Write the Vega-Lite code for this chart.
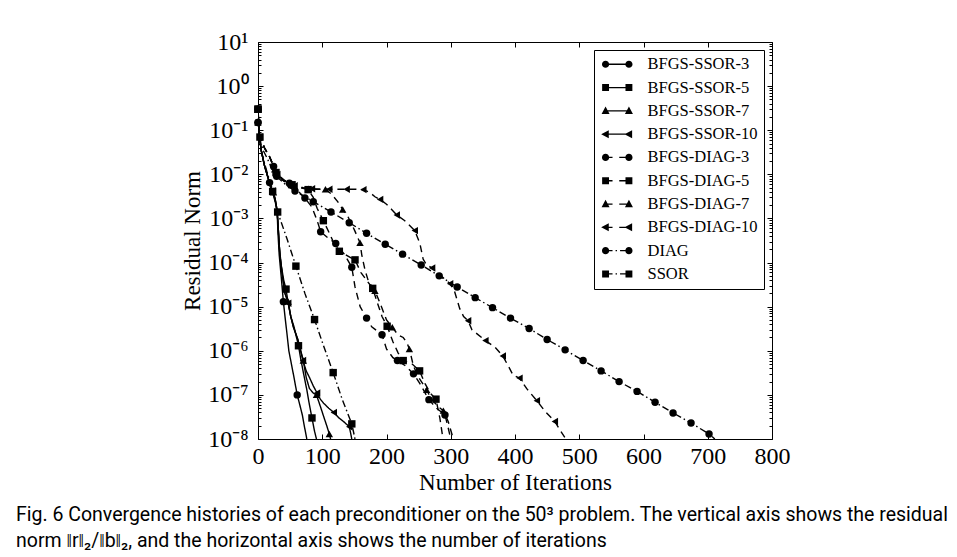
{
  "$schema": "https://vega.github.io/schema/vega-lite/v6.json",
  "width": 514,
  "height": 397,
  "padding": {"left": 16, "top": 30, "right": 5, "bottom": 5},
  "autosize": {"type": "pad"},
  "background": "white",
  "title": {
    "text": ["Fig. 6  Convergence histories of each preconditioner on the 50³ problem. The vertical axis shows the residual", "norm ‖r‖₂/‖b‖₂, and the horizontal axis shows the number of iterations"],
    "orient": "bottom",
    "anchor": "start",
    "frame": "group",
    "dx": -242,
    "offset": 12,
    "font": "Roboto",
    "fontSize": 19.5,
    "fontWeight": "normal",
    "color": "black",
    "lineHeight": 26
  },
  "datasets": {
    "curves": [
      {"series":"BFGS-SSOR-3","iter":0,"res":0.3,"mk":1},{"series":"BFGS-SSOR-3","iter":2,"res":0.08,"mk":0},{"series":"BFGS-SSOR-3","iter":5,"res":0.035,"mk":0},{"series":"BFGS-SSOR-3","iter":10,"res":0.016,"mk":0},{"series":"BFGS-SSOR-3","iter":15,"res":0.009,"mk":0},{"series":"BFGS-SSOR-3","iter":18,"res":0.0065,"mk":1},{"series":"BFGS-SSOR-3","iter":21,"res":0.0045,"mk":0},{"series":"BFGS-SSOR-3","iter":25,"res":0.003,"mk":0},{"series":"BFGS-SSOR-3","iter":28,"res":0.002,"mk":0},{"series":"BFGS-SSOR-3","iter":30,"res":0.0012,"mk":0},{"series":"BFGS-SSOR-3","iter":31,"res":5e-4,"mk":0},{"series":"BFGS-SSOR-3","iter":33,"res":1.5e-4,"mk":0},{"series":"BFGS-SSOR-3","iter":36,"res":5e-5,"mk":0},{"series":"BFGS-SSOR-3","iter":39.5,"res":1.3e-5,"mk":1},{"series":"BFGS-SSOR-3","iter":42,"res":6e-6,"mk":0},{"series":"BFGS-SSOR-3","iter":45,"res":2.5e-6,"mk":0},{"series":"BFGS-SSOR-3","iter":48,"res":1e-6,"mk":0},{"series":"BFGS-SSOR-3","iter":52,"res":5e-7,"mk":0},{"series":"BFGS-SSOR-3","iter":56,"res":2.5e-7,"mk":0},{"series":"BFGS-SSOR-3","iter":61,"res":1e-7,"mk":1},{"series":"BFGS-SSOR-3","iter":65,"res":6e-8,"mk":0},{"series":"BFGS-SSOR-3","iter":69,"res":3.5e-8,"mk":0},{"series":"BFGS-SSOR-3","iter":72,"res":2e-8,"mk":0},{"series":"BFGS-SSOR-3","iter":76,"res":1e-8,"mk":0},

      {"series":"BFGS-SSOR-5","iter":0,"res":0.3,"mk":1},{"series":"BFGS-SSOR-5","iter":2,"res":0.08,"mk":0},{"series":"BFGS-SSOR-5","iter":5,"res":0.035,"mk":0},{"series":"BFGS-SSOR-5","iter":10,"res":0.016,"mk":0},{"series":"BFGS-SSOR-5","iter":15,"res":0.009,"mk":0},{"series":"BFGS-SSOR-5","iter":19,"res":0.0055,"mk":0},{"series":"BFGS-SSOR-5","iter":22.8,"res":0.0041,"mk":1},{"series":"BFGS-SSOR-5","iter":26,"res":0.003,"mk":0},{"series":"BFGS-SSOR-5","iter":29,"res":0.0018,"mk":0},{"series":"BFGS-SSOR-5","iter":31,"res":8e-4,"mk":0},{"series":"BFGS-SSOR-5","iter":33,"res":2.5e-4,"mk":0},{"series":"BFGS-SSOR-5","iter":36,"res":9e-5,"mk":0},{"series":"BFGS-SSOR-5","iter":40,"res":4e-5,"mk":0},{"series":"BFGS-SSOR-5","iter":43.6,"res":2.5e-5,"mk":1},{"series":"BFGS-SSOR-5","iter":47,"res":1.2e-5,"mk":0},{"series":"BFGS-SSOR-5","iter":51,"res":6e-6,"mk":0},{"series":"BFGS-SSOR-5","iter":56,"res":3.5e-6,"mk":0},{"series":"BFGS-SSOR-5","iter":60,"res":2e-6,"mk":0},{"series":"BFGS-SSOR-5","iter":63,"res":1.3e-6,"mk":1},{"series":"BFGS-SSOR-5","iter":67,"res":6e-7,"mk":0},{"series":"BFGS-SSOR-5","iter":71,"res":3e-7,"mk":0},{"series":"BFGS-SSOR-5","iter":76,"res":1.3e-7,"mk":0},{"series":"BFGS-SSOR-5","iter":80,"res":6e-8,"mk":0},{"series":"BFGS-SSOR-5","iter":84,"res":3e-8,"mk":1},{"series":"BFGS-SSOR-5","iter":88,"res":1.5e-8,"mk":0},{"series":"BFGS-SSOR-5","iter":91,"res":1e-8,"mk":0},

      {"series":"BFGS-SSOR-7","iter":0,"res":0.3,"mk":1},{"series":"BFGS-SSOR-7","iter":2,"res":0.08,"mk":0},{"series":"BFGS-SSOR-7","iter":5,"res":0.035,"mk":0},{"series":"BFGS-SSOR-7","iter":10,"res":0.016,"mk":0},{"series":"BFGS-SSOR-7","iter":15,"res":0.009,"mk":0},{"series":"BFGS-SSOR-7","iter":20,"res":0.005,"mk":0},{"series":"BFGS-SSOR-7","iter":24,"res":0.0039,"mk":1},{"series":"BFGS-SSOR-7","iter":27,"res":0.0026,"mk":0},{"series":"BFGS-SSOR-7","iter":30,"res":0.0014,"mk":0},{"series":"BFGS-SSOR-7","iter":31.5,"res":6e-4,"mk":0},{"series":"BFGS-SSOR-7","iter":34,"res":1.5e-4,"mk":0},{"series":"BFGS-SSOR-7","iter":38,"res":5e-5,"mk":0},{"series":"BFGS-SSOR-7","iter":42,"res":2e-5,"mk":0},{"series":"BFGS-SSOR-7","iter":47,"res":1.3e-5,"mk":1},{"series":"BFGS-SSOR-7","iter":51,"res":6e-6,"mk":0},{"series":"BFGS-SSOR-7","iter":55,"res":3.5e-6,"mk":0},{"series":"BFGS-SSOR-7","iter":62,"res":1.8e-6,"mk":0},{"series":"BFGS-SSOR-7","iter":70.5,"res":6e-7,"mk":1},{"series":"BFGS-SSOR-7","iter":75,"res":2.5e-7,"mk":0},{"series":"BFGS-SSOR-7","iter":80,"res":1.4e-7,"mk":0},{"series":"BFGS-SSOR-7","iter":86,"res":1.1e-7,"mk":0},{"series":"BFGS-SSOR-7","iter":91,"res":1e-7,"mk":1},{"series":"BFGS-SSOR-7","iter":98,"res":5e-8,"mk":0},{"series":"BFGS-SSOR-7","iter":102,"res":3.3e-8,"mk":0},{"series":"BFGS-SSOR-7","iter":107,"res":2e-8,"mk":0},{"series":"BFGS-SSOR-7","iter":111,"res":1.3e-8,"mk":1},{"series":"BFGS-SSOR-7","iter":113,"res":1e-8,"mk":0},

      {"series":"BFGS-SSOR-10","iter":0,"res":0.3,"mk":1},{"series":"BFGS-SSOR-10","iter":2,"res":0.08,"mk":0},{"series":"BFGS-SSOR-10","iter":5,"res":0.035,"mk":0},{"series":"BFGS-SSOR-10","iter":10,"res":0.016,"mk":0},{"series":"BFGS-SSOR-10","iter":15,"res":0.009,"mk":0},{"series":"BFGS-SSOR-10","iter":20,"res":0.005,"mk":0},{"series":"BFGS-SSOR-10","iter":23,"res":0.0042,"mk":1},{"series":"BFGS-SSOR-10","iter":27,"res":0.0026,"mk":0},{"series":"BFGS-SSOR-10","iter":30,"res":0.0014,"mk":0},{"series":"BFGS-SSOR-10","iter":31.5,"res":6e-4,"mk":0},{"series":"BFGS-SSOR-10","iter":34,"res":1.5e-4,"mk":0},{"series":"BFGS-SSOR-10","iter":38,"res":5e-5,"mk":0},{"series":"BFGS-SSOR-10","iter":42,"res":2e-5,"mk":0},{"series":"BFGS-SSOR-10","iter":47,"res":1.2e-5,"mk":1},{"series":"BFGS-SSOR-10","iter":51,"res":6e-6,"mk":0},{"series":"BFGS-SSOR-10","iter":55,"res":3.5e-6,"mk":0},{"series":"BFGS-SSOR-10","iter":62,"res":1.8e-6,"mk":0},{"series":"BFGS-SSOR-10","iter":70,"res":6e-7,"mk":1},{"series":"BFGS-SSOR-10","iter":75,"res":3.5e-7,"mk":0},{"series":"BFGS-SSOR-10","iter":80,"res":2.5e-7,"mk":0},{"series":"BFGS-SSOR-10","iter":86,"res":1.6e-7,"mk":0},{"series":"BFGS-SSOR-10","iter":92,"res":1.1e-7,"mk":1},{"series":"BFGS-SSOR-10","iter":97,"res":8e-8,"mk":0},{"series":"BFGS-SSOR-10","iter":102,"res":6.5e-8,"mk":0},{"series":"BFGS-SSOR-10","iter":110,"res":5e-8,"mk":0},{"series":"BFGS-SSOR-10","iter":118,"res":4e-8,"mk":1},{"series":"BFGS-SSOR-10","iter":126,"res":3e-8,"mk":0},{"series":"BFGS-SSOR-10","iter":133,"res":2.5e-8,"mk":0},{"series":"BFGS-SSOR-10","iter":142,"res":1.9e-8,"mk":1},{"series":"BFGS-SSOR-10","iter":144,"res":1.4e-8,"mk":0},{"series":"BFGS-SSOR-10","iter":146,"res":1e-8,"mk":0},

      {"series":"BFGS-DIAG-3","iter":0,"res":0.15,"mk":1},{"series":"BFGS-DIAG-3","iter":3,"res":0.07,"mk":0},{"series":"BFGS-DIAG-3","iter":10,"res":0.04,"mk":0},{"series":"BFGS-DIAG-3","iter":18,"res":0.025,"mk":0},{"series":"BFGS-DIAG-3","iter":24.3,"res":0.015,"mk":1},{"series":"BFGS-DIAG-3","iter":30,"res":0.01,"mk":0},{"series":"BFGS-DIAG-3","iter":40,"res":0.0075,"mk":0},{"series":"BFGS-DIAG-3","iter":48.8,"res":0.0063,"mk":1},{"series":"BFGS-DIAG-3","iter":60,"res":0.0045,"mk":0},{"series":"BFGS-DIAG-3","iter":73,"res":0.0029,"mk":1},{"series":"BFGS-DIAG-3","iter":84,"res":0.0018,"mk":0},{"series":"BFGS-DIAG-3","iter":92,"res":9e-4,"mk":0},{"series":"BFGS-DIAG-3","iter":97.5,"res":5e-4,"mk":1},{"series":"BFGS-DIAG-3","iter":110,"res":3.5e-4,"mk":0},{"series":"BFGS-DIAG-3","iter":121,"res":2.7e-4,"mk":1},{"series":"BFGS-DIAG-3","iter":135,"res":1.5e-4,"mk":0},{"series":"BFGS-DIAG-3","iter":146,"res":7.8e-5,"mk":1},{"series":"BFGS-DIAG-3","iter":151,"res":2.8e-5,"mk":0},{"series":"BFGS-DIAG-3","iter":159,"res":1e-5,"mk":0},{"series":"BFGS-DIAG-3","iter":169,"res":5.5e-6,"mk":1},{"series":"BFGS-DIAG-3","iter":177,"res":3.5e-6,"mk":0},{"series":"BFGS-DIAG-3","iter":193,"res":2.3e-6,"mk":1},{"series":"BFGS-DIAG-3","iter":200,"res":1.1e-6,"mk":0},{"series":"BFGS-DIAG-3","iter":210,"res":7e-7,"mk":0},{"series":"BFGS-DIAG-3","iter":217,"res":6e-7,"mk":1},{"series":"BFGS-DIAG-3","iter":230,"res":4.5e-7,"mk":0},{"series":"BFGS-DIAG-3","iter":242,"res":3e-7,"mk":1},{"series":"BFGS-DIAG-3","iter":252,"res":1.8e-7,"mk":0},{"series":"BFGS-DIAG-3","iter":266,"res":7.8e-8,"mk":1},{"series":"BFGS-DIAG-3","iter":278,"res":5e-8,"mk":0},{"series":"BFGS-DIAG-3","iter":291,"res":3.5e-8,"mk":1},{"series":"BFGS-DIAG-3","iter":296,"res":1.8e-8,"mk":0},{"series":"BFGS-DIAG-3","iter":300,"res":1e-8,"mk":0},

      {"series":"BFGS-DIAG-5","iter":0,"res":0.15,"mk":0},{"series":"BFGS-DIAG-5","iter":3,"res":0.07,"mk":1},{"series":"BFGS-DIAG-5","iter":10,"res":0.04,"mk":0},{"series":"BFGS-DIAG-5","iter":18,"res":0.025,"mk":0},{"series":"BFGS-DIAG-5","iter":28,"res":0.011,"mk":1},{"series":"BFGS-DIAG-5","iter":40,"res":0.007,"mk":0},{"series":"BFGS-DIAG-5","iter":53,"res":0.0058,"mk":1},{"series":"BFGS-DIAG-5","iter":65,"res":0.005,"mk":0},{"series":"BFGS-DIAG-5","iter":78,"res":0.0045,"mk":1},{"series":"BFGS-DIAG-5","iter":86,"res":0.003,"mk":0},{"series":"BFGS-DIAG-5","iter":92,"res":0.0017,"mk":0},{"series":"BFGS-DIAG-5","iter":101.7,"res":8.9e-4,"mk":1},{"series":"BFGS-DIAG-5","iter":110,"res":5e-4,"mk":0},{"series":"BFGS-DIAG-5","iter":118,"res":2.8e-4,"mk":0},{"series":"BFGS-DIAG-5","iter":126.6,"res":1.8e-4,"mk":1},{"series":"BFGS-DIAG-5","iter":140,"res":1.4e-4,"mk":0},{"series":"BFGS-DIAG-5","iter":151,"res":1.15e-4,"mk":1},{"series":"BFGS-DIAG-5","iter":160,"res":6e-5,"mk":0},{"series":"BFGS-DIAG-5","iter":170,"res":3.8e-5,"mk":0},{"series":"BFGS-DIAG-5","iter":178.5,"res":2.6e-5,"mk":1},{"series":"BFGS-DIAG-5","iter":186,"res":1.2e-5,"mk":0},{"series":"BFGS-DIAG-5","iter":193,"res":6e-6,"mk":0},{"series":"BFGS-DIAG-5","iter":201,"res":3.6e-6,"mk":1},{"series":"BFGS-DIAG-5","iter":210,"res":1.6e-6,"mk":0},{"series":"BFGS-DIAG-5","iter":218,"res":9e-7,"mk":0},{"series":"BFGS-DIAG-5","iter":226,"res":6e-7,"mk":1},{"series":"BFGS-DIAG-5","iter":240,"res":5e-7,"mk":0},{"series":"BFGS-DIAG-5","iter":251.5,"res":3.5e-7,"mk":1},{"series":"BFGS-DIAG-5","iter":260,"res":1.8e-7,"mk":0},{"series":"BFGS-DIAG-5","iter":268,"res":1.1e-7,"mk":0},{"series":"BFGS-DIAG-5","iter":277,"res":8e-8,"mk":1},{"series":"BFGS-DIAG-5","iter":283,"res":3e-8,"mk":0},{"series":"BFGS-DIAG-5","iter":288,"res":1e-8,"mk":0},

      {"series":"BFGS-DIAG-7","iter":0,"res":0.15,"mk":1},{"series":"BFGS-DIAG-7","iter":3,"res":0.07,"mk":0},{"series":"BFGS-DIAG-7","iter":10,"res":0.04,"mk":0},{"series":"BFGS-DIAG-7","iter":18,"res":0.025,"mk":0},{"series":"BFGS-DIAG-7","iter":26,"res":0.013,"mk":1},{"series":"BFGS-DIAG-7","iter":38,"res":0.0075,"mk":0},{"series":"BFGS-DIAG-7","iter":52,"res":0.0058,"mk":1},{"series":"BFGS-DIAG-7","iter":65,"res":0.005,"mk":0},{"series":"BFGS-DIAG-7","iter":78.5,"res":0.0047,"mk":1},{"series":"BFGS-DIAG-7","iter":92,"res":0.0046,"mk":0},{"series":"BFGS-DIAG-7","iter":105,"res":0.0046,"mk":1},{"series":"BFGS-DIAG-7","iter":115,"res":0.0035,"mk":0},{"series":"BFGS-DIAG-7","iter":124,"res":0.0024,"mk":0},{"series":"BFGS-DIAG-7","iter":131.8,"res":0.0016,"mk":1},{"series":"BFGS-DIAG-7","iter":140,"res":0.0011,"mk":0},{"series":"BFGS-DIAG-7","iter":150,"res":5.5e-4,"mk":0},{"series":"BFGS-DIAG-7","iter":158.8,"res":2.8e-4,"mk":1},{"series":"BFGS-DIAG-7","iter":161.5,"res":1.5e-4,"mk":0},{"series":"BFGS-DIAG-7","iter":166.5,"res":6.8e-5,"mk":0},{"series":"BFGS-DIAG-7","iter":172,"res":3.7e-5,"mk":0},{"series":"BFGS-DIAG-7","iter":182,"res":2.3e-5,"mk":1},{"series":"BFGS-DIAG-7","iter":190,"res":1.2e-5,"mk":0},{"series":"BFGS-DIAG-7","iter":200,"res":5e-6,"mk":0},{"series":"BFGS-DIAG-7","iter":209,"res":3.4e-6,"mk":1},{"series":"BFGS-DIAG-7","iter":218,"res":2.3e-6,"mk":0},{"series":"BFGS-DIAG-7","iter":226,"res":2e-6,"mk":0},{"series":"BFGS-DIAG-7","iter":232,"res":1.5e-6,"mk":0},{"series":"BFGS-DIAG-7","iter":235.6,"res":1.1e-6,"mk":1},{"series":"BFGS-DIAG-7","iter":242,"res":4.5e-7,"mk":0},{"series":"BFGS-DIAG-7","iter":250,"res":2.5e-7,"mk":0},{"series":"BFGS-DIAG-7","iter":262.5,"res":1.3e-7,"mk":1},{"series":"BFGS-DIAG-7","iter":270,"res":8e-8,"mk":0},{"series":"BFGS-DIAG-7","iter":280,"res":5.5e-8,"mk":0},{"series":"BFGS-DIAG-7","iter":288.5,"res":4.4e-8,"mk":1},{"series":"BFGS-DIAG-7","iter":296,"res":2.5e-8,"mk":0},{"series":"BFGS-DIAG-7","iter":304,"res":1e-8,"mk":0},

      {"series":"BFGS-DIAG-10","iter":0,"res":0.15,"mk":0},{"series":"BFGS-DIAG-10","iter":3,"res":0.07,"mk":1},{"series":"BFGS-DIAG-10","iter":10,"res":0.04,"mk":0},{"series":"BFGS-DIAG-10","iter":18,"res":0.025,"mk":0},{"series":"BFGS-DIAG-10","iter":30,"res":0.01,"mk":1},{"series":"BFGS-DIAG-10","iter":45,"res":0.0065,"mk":0},{"series":"BFGS-DIAG-10","iter":57,"res":0.0055,"mk":1},{"series":"BFGS-DIAG-10","iter":70,"res":0.005,"mk":0},{"series":"BFGS-DIAG-10","iter":84,"res":0.0047,"mk":1},{"series":"BFGS-DIAG-10","iter":97,"res":0.0046,"mk":0},{"series":"BFGS-DIAG-10","iter":111,"res":0.0046,"mk":1},{"series":"BFGS-DIAG-10","iter":125,"res":0.0046,"mk":0},{"series":"BFGS-DIAG-10","iter":138,"res":0.0046,"mk":1},{"series":"BFGS-DIAG-10","iter":150,"res":0.0046,"mk":0},{"series":"BFGS-DIAG-10","iter":164,"res":0.0045,"mk":1},{"series":"BFGS-DIAG-10","iter":175,"res":0.0038,"mk":0},{"series":"BFGS-DIAG-10","iter":182,"res":0.0031,"mk":0},{"series":"BFGS-DIAG-10","iter":190,"res":0.0027,"mk":1},{"series":"BFGS-DIAG-10","iter":200,"res":0.0021,"mk":0},{"series":"BFGS-DIAG-10","iter":208,"res":0.0016,"mk":0},{"series":"BFGS-DIAG-10","iter":216,"res":0.0012,"mk":1},{"series":"BFGS-DIAG-10","iter":228,"res":9e-4,"mk":0},{"series":"BFGS-DIAG-10","iter":238,"res":6.5e-4,"mk":0},{"series":"BFGS-DIAG-10","iter":244,"res":5.3e-4,"mk":1},{"series":"BFGS-DIAG-10","iter":252,"res":2.7e-4,"mk":0},{"series":"BFGS-DIAG-10","iter":257,"res":1.2e-4,"mk":0},{"series":"BFGS-DIAG-10","iter":262,"res":9e-5,"mk":0},{"series":"BFGS-DIAG-10","iter":271,"res":7.5e-5,"mk":1},{"series":"BFGS-DIAG-10","iter":285,"res":5e-5,"mk":0},{"series":"BFGS-DIAG-10","iter":299,"res":3.3e-5,"mk":1},{"series":"BFGS-DIAG-10","iter":306,"res":2.2e-5,"mk":0},{"series":"BFGS-DIAG-10","iter":314,"res":9e-6,"mk":0},{"series":"BFGS-DIAG-10","iter":320,"res":6e-6,"mk":0},{"series":"BFGS-DIAG-10","iter":327,"res":4.8e-6,"mk":1},{"series":"BFGS-DIAG-10","iter":333,"res":3e-6,"mk":0},{"series":"BFGS-DIAG-10","iter":354,"res":1.7e-6,"mk":1},{"series":"BFGS-DIAG-10","iter":369,"res":1.2e-6,"mk":0},{"series":"BFGS-DIAG-10","iter":381,"res":7.6e-7,"mk":1},{"series":"BFGS-DIAG-10","iter":390,"res":4.4e-7,"mk":0},{"series":"BFGS-DIAG-10","iter":397,"res":2.8e-7,"mk":0},{"series":"BFGS-DIAG-10","iter":407,"res":2.4e-7,"mk":1},{"series":"BFGS-DIAG-10","iter":418,"res":1.4e-7,"mk":0},{"series":"BFGS-DIAG-10","iter":434,"res":7.4e-8,"mk":1},{"series":"BFGS-DIAG-10","iter":447,"res":4.2e-8,"mk":0},{"series":"BFGS-DIAG-10","iter":462,"res":2.5e-8,"mk":1},{"series":"BFGS-DIAG-10","iter":470,"res":1.6e-8,"mk":0},{"series":"BFGS-DIAG-10","iter":479,"res":1e-8,"mk":0},

      {"series":"DIAG","iter":0,"res":0.15,"mk":1},{"series":"DIAG","iter":3,"res":0.06,"mk":0},{"series":"DIAG","iter":8,"res":0.035,"mk":0},{"series":"DIAG","iter":15,"res":0.022,"mk":0},{"series":"DIAG","iter":22,"res":0.013,"mk":0},{"series":"DIAG","iter":29,"res":0.009,"mk":1},{"series":"DIAG","iter":43,"res":0.0058,"mk":0},{"series":"DIAG","iter":57.6,"res":0.0042,"mk":1},{"series":"DIAG","iter":86,"res":0.0024,"mk":1},{"series":"DIAG","iter":113.6,"res":0.0014,"mk":1},{"series":"DIAG","iter":142,"res":8e-4,"mk":1},{"series":"DIAG","iter":169,"res":4.6e-4,"mk":1},{"series":"DIAG","iter":198,"res":2.6e-4,"mk":1},{"series":"DIAG","iter":225,"res":1.55e-4,"mk":1},{"series":"DIAG","iter":254,"res":8.8e-5,"mk":1},{"series":"DIAG","iter":282,"res":5e-5,"mk":1},{"series":"DIAG","iter":310,"res":2.8e-5,"mk":1},{"series":"DIAG","iter":338,"res":1.6e-5,"mk":1},{"series":"DIAG","iter":365,"res":9.5e-6,"mk":1},{"series":"DIAG","iter":393,"res":5.5e-6,"mk":1},{"series":"DIAG","iter":422,"res":3.2e-6,"mk":1},{"series":"DIAG","iter":450,"res":1.8e-6,"mk":1},{"series":"DIAG","iter":478,"res":1.05e-6,"mk":1},{"series":"DIAG","iter":506,"res":6e-7,"mk":1},{"series":"DIAG","iter":534,"res":3.5e-7,"mk":1},{"series":"DIAG","iter":562,"res":2e-7,"mk":1},{"series":"DIAG","iter":590,"res":1.2e-7,"mk":1},{"series":"DIAG","iter":618,"res":6.8e-8,"mk":1},{"series":"DIAG","iter":646,"res":3.9e-8,"mk":1},{"series":"DIAG","iter":674,"res":2.3e-8,"mk":1},{"series":"DIAG","iter":702,"res":1.3e-8,"mk":1},{"series":"DIAG","iter":711,"res":1e-8,"mk":0},

      {"series":"SSOR","iter":0,"res":0.3,"mk":1},{"series":"SSOR","iter":3,"res":0.06,"mk":0},{"series":"SSOR","iter":6,"res":0.03,"mk":0},{"series":"SSOR","iter":10,"res":0.018,"mk":0},{"series":"SSOR","iter":15,"res":0.01,"mk":0},{"series":"SSOR","iter":20,"res":0.006,"mk":0},{"series":"SSOR","iter":25,"res":0.0032,"mk":0},{"series":"SSOR","iter":30.6,"res":0.0014,"mk":1},{"series":"SSOR","iter":45,"res":3.5e-4,"mk":0},{"series":"SSOR","iter":59,"res":8.3e-5,"mk":1},{"series":"SSOR","iter":73,"res":2e-5,"mk":0},{"series":"SSOR","iter":88,"res":5.1e-6,"mk":1},{"series":"SSOR","iter":102,"res":1.3e-6,"mk":0},{"series":"SSOR","iter":117,"res":3.2e-7,"mk":1},{"series":"SSOR","iter":131,"res":8e-8,"mk":0},{"series":"SSOR","iter":146,"res":2.2e-8,"mk":1},{"series":"SSOR","iter":151,"res":1e-8,"mk":0}
    ]
  },
  "data": {"name": "curves"},
  "layer": [
    {
      "mark": {"type": "line", "color": "black", "strokeWidth": 1.4, "clip": true},
      "encoding": {
        "x": {"field": "iter", "type": "quantitative", "scale": {"domain": [0, 800], "nice": false, "zero": false},
          "axis": {"orient": "bottom", "values": [0, 100, 200, 300, 400, 500, 600, 700, 800], "tickSize": -5, "labelPadding": 10, "labelFontSize": 24, "title": "Number of Iterations", "titlePadding": 3, "format": "d"}},
        "y": {"field": "res", "type": "quantitative", "scale": {"type": "log", "domain": [1e-8, 10], "nice": false},
          "axis": {"orient": "left", "values": [1e-8, 1e-7, 1e-6, 1e-5, 1e-4, 1e-3, 1e-2, 1e-1, 1, 10], "tickSize": -5, "labelPadding": 15, "labelFontSize": 24, "title": "Residual Norm", "titlePadding": 3,
            "labelExpr": "'10' + ['⁻⁸','⁻⁷','⁻⁶','⁻⁵','⁻⁴','⁻³','⁻²','⁻¹','⁰','¹'][round(log(datum.value)/LN10)+8]"}},
        "detail": {"field": "series", "type": "nominal"},
        "strokeDash": {"field": "series", "type": "nominal", "legend": null,
          "scale": {"domain": ["BFGS-SSOR-3", "BFGS-SSOR-5", "BFGS-SSOR-7", "BFGS-SSOR-10", "BFGS-DIAG-3", "BFGS-DIAG-5", "BFGS-DIAG-7", "BFGS-DIAG-10", "DIAG", "SSOR"],
            "range": [[1, 0], [1, 0], [1, 0], [1, 0], [7, 5], [7, 5], [7, 5], [7, 5], [7, 3, 1.5, 3], [7, 3, 1.5, 3]]}},
        "order": {"field": "iter", "type": "quantitative"}
      }
    },
    {
      "transform": [{"filter": "datum.mk == 1"}],
      "mark": {"type": "point", "filled": true, "color": "black", "size": 55, "opacity": 1},
      "encoding": {
        "x": {"field": "iter", "type": "quantitative", "scale": {"domain": [0, 800], "nice": false, "zero": false},
          "axis": {"orient": "top", "values": [0, 100, 200, 300, 400, 500, 600, 700, 800], "tickSize": -5, "labels": false, "title": null}},
        "y": {"field": "res", "type": "quantitative", "scale": {"type": "log", "domain": [1e-8, 10], "nice": false},
          "axis": {"orient": "right", "values": [1e-8, 1e-7, 1e-6, 1e-5, 1e-4, 1e-3, 1e-2, 1e-1, 1, 10], "tickSize": -5, "labels": false, "title": null}},
        "shape": {"field": "series", "type": "nominal", "legend": null,
          "scale": {"domain": ["BFGS-SSOR-3", "BFGS-SSOR-5", "BFGS-SSOR-7", "BFGS-SSOR-10", "BFGS-DIAG-3", "BFGS-DIAG-5", "BFGS-DIAG-7", "BFGS-DIAG-10", "DIAG", "SSOR"],
            "range": ["circle", "square", "triangle-up", "triangle-left", "circle", "square", "triangle-up", "triangle-left", "circle", "square"]}}
      }
    },
    {
      "transform": [{"filter": "false"}],
      "mark": {"type": "point", "filled": true, "color": "black", "size": 256},
      "encoding": {
        "x": {"field": "iter", "type": "quantitative", "scale": {"domain": [0, 800], "nice": false, "zero": false}, "axis": null},
        "y": {"field": "res", "type": "quantitative", "scale": {"type": "log", "domain": [1e-8, 10], "nice": false},
          "axis": {"orient": "left", "values": [2e-8,3e-8,4e-8,5e-8,6e-8,7e-8,8e-8,9e-8,2e-7,3e-7,4e-7,5e-7,6e-7,7e-7,8e-7,9e-7,2e-6,3e-6,4e-6,5e-6,6e-6,7e-6,8e-6,9e-6,2e-5,3e-5,4e-5,5e-5,6e-5,7e-5,8e-5,9e-5,2e-4,3e-4,4e-4,5e-4,6e-4,7e-4,8e-4,9e-4,0.002,0.003,0.004,0.005,0.006,0.007,0.008,0.009,0.02,0.03,0.04,0.05,0.06,0.07,0.08,0.09,0.2,0.3,0.4,0.5,0.6,0.7,0.8,0.9,2,3,4,5,6,7,8,9], "tickSize": -3, "labels": false, "domain": false, "title": null}},
        "shape": {"field": "series", "type": "nominal",
          "scale": {"domain": ["BFGS-SSOR-3", "BFGS-SSOR-5", "BFGS-SSOR-7", "BFGS-SSOR-10", "BFGS-DIAG-3", "BFGS-DIAG-5", "BFGS-DIAG-7", "BFGS-DIAG-10", "DIAG", "SSOR"],
            "range": [
              "M-1.46,-0.08H1.46V0.08H-1.46Z M-1.91,0A0.45,0.45 0 1,1 -1.01,0A0.45,0.45 0 1,1 -1.91,0Z M1.01,0A0.45,0.45 0 1,1 1.91,0A0.45,0.45 0 1,1 1.01,0Z",
              "M-1.46,-0.08H1.46V0.08H-1.46Z M-1.89,-0.43H-1.03V0.43H-1.89Z M1.03,-0.43H1.89V0.43H1.03Z",
              "M-1.46,-0.08H1.46V0.08H-1.46Z M-1.46,-0.55L-0.96,0.4H-1.96Z M1.46,-0.55L1.96,0.4H0.96Z",
              "M-1.46,-0.08H1.46V0.08H-1.46Z M-2.01,0L-1.06,-0.5V0.5Z M0.91,0L1.86,-0.5V0.5Z",
              "M-1.46,-0.08H-0.59V0.08H-1.46Z M0.25,-0.08H1.46V0.08H0.25Z M-1.91,0A0.45,0.45 0 1,1 -1.01,0A0.45,0.45 0 1,1 -1.91,0Z M1.01,0A0.45,0.45 0 1,1 1.91,0A0.45,0.45 0 1,1 1.01,0Z",
              "M-1.46,-0.08H-0.59V0.08H-1.46Z M0.25,-0.08H1.46V0.08H0.25Z M-1.89,-0.43H-1.03V0.43H-1.89Z M1.03,-0.43H1.89V0.43H1.03Z",
              "M-1.46,-0.08H-0.59V0.08H-1.46Z M0.25,-0.08H1.46V0.08H0.25Z M-1.46,-0.55L-0.96,0.4H-1.96Z M1.46,-0.55L1.96,0.4H0.96Z",
              "M-1.46,-0.08H-0.59V0.08H-1.46Z M0.25,-0.08H1.46V0.08H0.25Z M-2.01,0L-1.06,-0.5V0.5Z M0.91,0L1.86,-0.5V0.5Z",
              "M-1.46,-0.08H-0.59V0.08H-1.46Z M-0.21,-0.08H-0.03V0.08H-0.21Z M0.35,-0.08H1.46V0.08H0.35Z M-1.91,0A0.45,0.45 0 1,1 -1.01,0A0.45,0.45 0 1,1 -1.91,0Z M1.01,0A0.45,0.45 0 1,1 1.91,0A0.45,0.45 0 1,1 1.01,0Z",
              "M-1.46,-0.08H-0.59V0.08H-1.46Z M-0.21,-0.08H-0.03V0.08H-0.21Z M0.35,-0.08H1.46V0.08H0.35Z M-1.89,-0.43H-1.03V0.43H-1.89Z M1.03,-0.43H1.89V0.43H1.03Z"
            ]},
          "legend": {"title": null, "orient": "top-right", "offset": 8, "padding": 6, "strokeColor": "black", "fillColor": "white",
            "symbolSize": 256, "symbolFillColor": "black", "symbolStrokeColor": "black", "symbolStrokeWidth": 0, "symbolOffset": 9, "symbolOpacity": 1,
            "labelOffset": 22, "labelFont": "Liberation Serif", "labelFontSize": 16.5, "labelColor": "black", "rowPadding": 6.3, "labelLimit": 300}}
      }
    },
    {
      "transform": [{"filter": "false"}],
      "mark": {"type": "point"},
      "encoding": {
        "x": {"field": "iter", "type": "quantitative", "scale": {"domain": [0, 800], "nice": false, "zero": false}, "axis": null},
        "y": {"field": "res", "type": "quantitative", "scale": {"type": "log", "domain": [1e-8, 10], "nice": false},
          "axis": {"orient": "right", "values": [2e-8,3e-8,4e-8,5e-8,6e-8,7e-8,8e-8,9e-8,2e-7,3e-7,4e-7,5e-7,6e-7,7e-7,8e-7,9e-7,2e-6,3e-6,4e-6,5e-6,6e-6,7e-6,8e-6,9e-6,2e-5,3e-5,4e-5,5e-5,6e-5,7e-5,8e-5,9e-5,2e-4,3e-4,4e-4,5e-4,6e-4,7e-4,8e-4,9e-4,0.002,0.003,0.004,0.005,0.006,0.007,0.008,0.009,0.02,0.03,0.04,0.05,0.06,0.07,0.08,0.09,0.2,0.3,0.4,0.5,0.6,0.7,0.8,0.9,2,3,4,5,6,7,8,9], "tickSize": -3, "labels": false, "domain": false, "title": null}}
      }
    }
  ],
  "resolve": {"scale": {"shape": "independent"}, "axis": {"x": "independent", "y": "independent"}},
  "config": {
    "view": {"stroke": null},
    "axis": {"domainColor": "black", "domainWidth": 1, "tickColor": "black", "tickWidth": 1, "labelColor": "black", "titleColor": "black",
      "labelFont": "Liberation Serif", "titleFont": "Liberation Serif", "labelFontSize": 23, "titleFontSize": 23, "titleFontWeight": "normal",
      "grid": false, "labelFlush": false, "labelOverlap": false}
  }
}
